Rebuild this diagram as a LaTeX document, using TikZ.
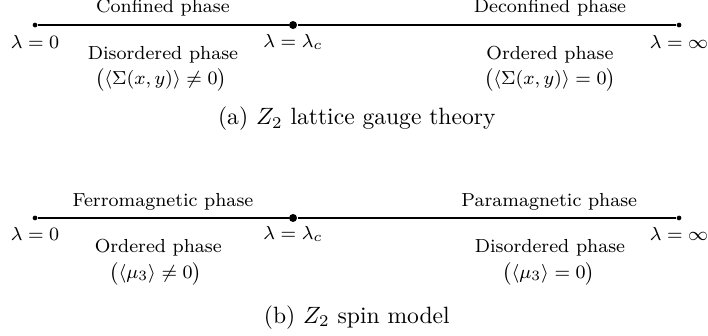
\documentclass[tikz,border=0pt]{standalone}
\usepackage{tikz}
\usepackage{amsmath}

\begin{document}
\begin{tikzpicture}[
    axis/.style={very thick},
    enddot/.style={circle, fill, inner sep=0pt, minimum size=2pt},
    critdot/.style={circle, fill, inner sep=0pt, minimum size=3.4pt},
    lbl/.style={font=\footnotesize, inner sep=1pt},
    subcaption/.style={font=\normalsize}
  ]
  \useasboundingbox (0,0) rectangle (10.556,-4.995);
  % Line for the Z2 lattice gauge theory
  \node[enddot] (g0) at (0.522,-0.373) {};
  \node[critdot] (gc) at (4.369,-0.373) {};
  \node[enddot] (ginf) at (10.124,-0.373) {};
  \draw[axis] (g0) -- (gc) -- (ginf);
  \node[lbl] (gconf) at (2.43,-0.12) {Confined phase};
  \node[lbl] (gdeconf) at (8.20,-0.12) {Deconfined phase};
  \node[lbl] (gl0) at (0.522,-0.63) {$\lambda=0$};
  \node[lbl] (glc) at (4.369,-0.63) {$\lambda=\lambda_c$};
  \node[lbl] (glinf) at (10.124,-0.63) {$\lambda=\infty$};
  \node[lbl] (gdis) at (2.43,-0.81) {Disordered phase};
  \node[lbl] (gdisv) at (2.40,-1.19) {$\big(\langle\Sigma(x,y)\rangle\neq0\big)$};
  \node[lbl] (gord) at (8.20,-0.81) {Ordered phase};
  \node[lbl] (gordv) at (8.20,-1.19) {$\big(\langle\Sigma(x,y)\rangle=0\big)$};
  \node[subcaption] (gcap) at (5.32,-1.77) {(a) $Z_2$ lattice gauge theory};
  % Line for the Z2 spin model
  \node[enddot] (s0) at (0.522,-3.25) {};
  \node[critdot] (sc) at (4.369,-3.25) {};
  \node[enddot] (sinf) at (10.124,-3.25) {};
  \draw[axis] (s0) -- (sc) -- (sinf);
  \node[lbl] (sferro) at (2.43,-3.01) {Ferromagnetic phase};
  \node[lbl] (spara) at (8.19,-3.01) {Paramagnetic phase};
  \node[lbl] (sl0) at (0.522,-3.49) {$\lambda=0$};
  \node[lbl] (slc) at (4.369,-3.49) {$\lambda=\lambda_c$};
  \node[lbl] (slinf) at (10.124,-3.49) {$\lambda=\infty$};
  \node[lbl] (sord) at (2.36,-3.69) {Ordered phase};
  \node[lbl] (sordv) at (2.32,-4.08) {$\big(\langle\mu_3\rangle\neq0\big)$};
  \node[lbl] (sdis) at (8.20,-3.69) {Disordered phase};
  \node[lbl] (sdisv) at (8.18,-4.08) {$\big(\langle\mu_3\rangle=0\big)$};
  \node[subcaption] (scap) at (5.32,-4.73) {(b) $Z_2$ spin model};
\end{tikzpicture}
\end{document}
